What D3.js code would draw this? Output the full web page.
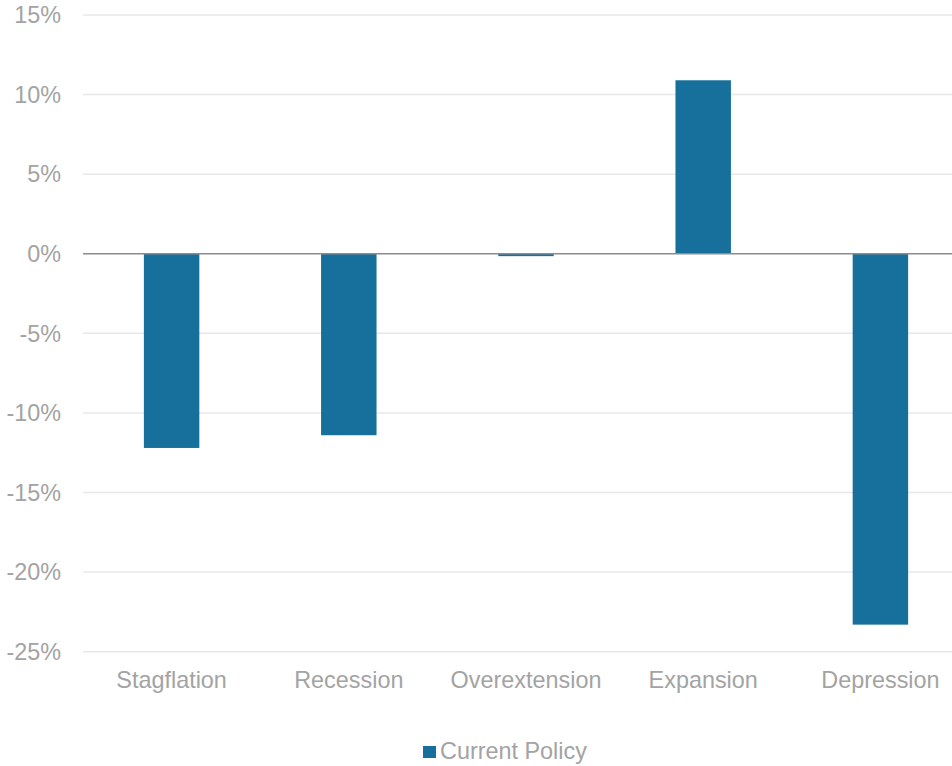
<!DOCTYPE html>
<html><head><meta charset="utf-8">
<script src="https://cdn.jsdelivr.net/npm/d3@7"></script>
<style>
html,body{margin:0;padding:0;background:#fff;}
svg{display:block;font-family:"Liberation Sans",Arial,sans-serif;}
</style></head>
<body>
<svg id="chart" width="952" height="766"></svg>
<script>
const categories = ["Stagflation","Recession","Overextension","Expansion","Depression"];
const values = [-12.2,-11.4,-0.15,10.9,-23.3];
const yTicks = [15,10,5,0,-5,-10,-15,-20,-25];
const seriesName = "Current Policy";

(function(){
const svg = d3.select("#chart");
const W = 952;
const pLeft = 83, pRight = 969, pTop = 15, pBottom = 651.7;
const color = "#17709b";
const fs = "23.4px";
const tc = "#a3a3a3";

const x = d3.scaleBand().domain(categories).range([pLeft, pRight]).padding(0);
const y = d3.scaleLinear().domain([-25, 15]).range([pBottom, pTop]);
const barW = x.step() * 0.313;

// gridlines
svg.append("g").selectAll("line").data(yTicks.filter(d => d !== 0)).join("line")
  .attr("x1", pLeft).attr("x2", W)
  .attr("y1", d => y(d)).attr("y2", d => y(d))
  .attr("stroke", "#e8e8e8").attr("stroke-width", 1.5);

// y axis labels
const yAxis = d3.axisLeft(y).tickValues(yTicks).tickFormat(d => d + "%").tickSize(0).tickPadding(0);
const ga = svg.append("g").attr("transform", "translate(61,0)").call(yAxis);
ga.select(".domain").remove();
ga.selectAll("text").attr("fill", tc).style("font-size", fs)
  .attr("font-family", "Liberation Sans, Arial, sans-serif").attr("dy", "0.33em");

// bars
svg.append("g").selectAll("rect").data(values).join("rect")
  .attr("x", (d, i) => x(categories[i]) + x.bandwidth() / 2 - barW / 2)
  .attr("width", barW)
  .attr("y", d => y(Math.max(0, d)))
  .attr("height", d => Math.abs(y(d) - y(0)))
  .attr("fill", color);

// zero line
svg.append("line").attr("x1", pLeft).attr("x2", W)
  .attr("y1", y(0)).attr("y2", y(0))
  .attr("stroke", "#8c8c8c").attr("stroke-width", 1.5);

// x axis labels
const xAxis = d3.axisBottom(x).tickSize(0).tickPadding(0);
const gx = svg.append("g").attr("transform", "translate(0,687.5)").call(xAxis);
gx.select(".domain").remove();
gx.selectAll("text").attr("fill", tc).style("font-size", fs)
  .attr("font-family", "Liberation Sans, Arial, sans-serif").attr("dy", 0);

// legend
const lg = svg.append("g");
lg.append("rect").attr("x", 423).attr("y", 746).attr("width", 13).attr("height", 12).attr("fill", color);
lg.append("text").attr("x", 440).attr("y", 758.5).text(seriesName)
  .attr("fill", tc).style("font-size", fs);
})();
</script>
</body></html>
